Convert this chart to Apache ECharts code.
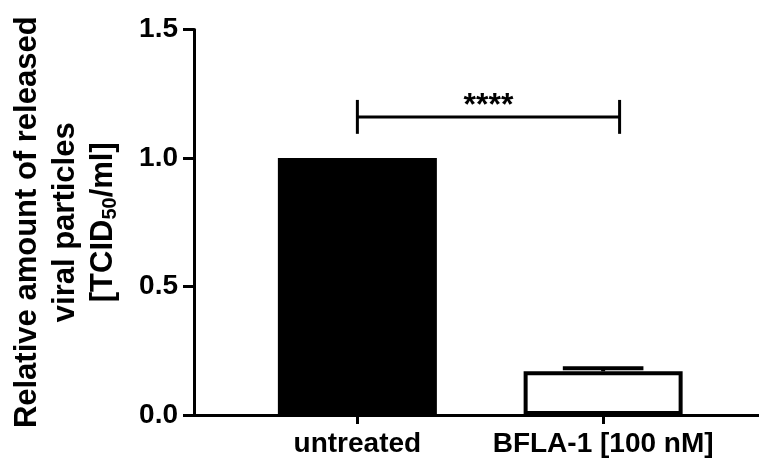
<!DOCTYPE html>
<html>
<head>
<meta charset="utf-8">
<script src="https://cdn.jsdelivr.net/npm/echarts@6/dist/echarts.min.js"></script>
<style>html,body{margin:0;padding:0;background:#fff}#c{width:759px;height:461px}</style>
</head>
<body>
<div id="c"></div>
<script>
// ---- data ----
const categories = ['untreated', 'BFLA-1 [100 nM]'];
const meanValues = [1.0, 0.17];
const errorValues = [0, 0.012];
const barFills = ['#000000', '#ffffff'];
const yTicks = [0, 0.5, 1.0, 1.5];
const sigFrom = 0;        // category index (left end of bracket)
const sigTo = 1.067;      // category units (right end of bracket)
const sigLevel = 1.16;    // y value of the bracket
const sigTickHalf = 0.066;
const sigLabel = '****';

const FONT = 'Liberation Sans, Arial, Helvetica, sans-serif';
const chart = echarts.init(document.getElementById('c'), null, {renderer: 'canvas'});

const option = {
  backgroundColor: '#ffffff',
  animation: false,
  grid: [
    {left: 232, right: 33, top: 29.5, bottom: 46, containLabel: false},
    {left: 191.5, right: 0, top: 29.5, bottom: 46, containLabel: false}
  ],
  xAxis: [
    {
      type: 'category', gridIndex: 0, data: categories,
      axisLine: {show: false, onZero: false},
      axisTick: {show: true, alignWithLabel: true, length: 9, lineStyle: {color: '#000', width: 3}},
      axisLabel: {color: '#000', fontFamily: FONT, fontWeight: 'bold', fontSize: 28, margin: 15, interval: 0}
    },
    {
      type: 'value', gridIndex: 1, min: 0, max: 1,
      axisLine: {show: true, onZero: false, lineStyle: {color: '#000', width: 3}},
      axisTick: {show: false}, axisLabel: {show: false}, splitLine: {show: false}
    },
    {
      type: 'value', gridIndex: 0, min: -0.5, max: 1.5, show: false,
      axisLine: {onZero: false}
    }
  ],
  yAxis: [
    {
      type: 'value', gridIndex: 0, min: 0, max: 1.5, interval: 0.5, offset: 40.5,
      axisLine: {show: true, onZero: false, lineStyle: {color: '#000', width: 3}},
      axisTick: {show: true, length: 11, lineStyle: {color: '#000', width: 3}},
      splitLine: {show: false},
      axisLabel: {
        color: '#000', fontFamily: FONT, fontWeight: 'bold', fontSize: 28, margin: 16,
        formatter: v => yTicks.includes(v) ? v.toFixed(1) : ''
      },
      name: 'Relative amount of released\nviral particles\n[TCID{sub|50}/ml]',
      nameLocation: 'middle', nameGap: 72,
      nameTextStyle: {
        color: '#000', fontFamily: FONT, fontWeight: 'bold', fontSize: 31, lineHeight: 38,
        align: 'center',
        rich: {sub: {fontFamily: FONT, fontWeight: 'bold', fontSize: 20, lineHeight: 38, padding: [14, 0, 0, 0], color: '#000'}}
      }
    },
    {type: 'value', gridIndex: 1, min: 0, max: 1.5, show: false, axisLine: {onZero: false}}
  ],
  series: [
    {
      type: 'bar', xAxisIndex: 0, yAxisIndex: 0, barWidth: 159,
      data: meanValues.map((v, i) => ({value: v, itemStyle: {color: barFills[i], borderColor: '#000', borderWidth: 4}})),
      z: 3
    },
    {
      type: 'custom', xAxisIndex: 0, yAxisIndex: 0, z: 4,
      data: meanValues.map((v, i) => [i, v, errorValues[i]]),
      renderItem: function (params, api) {
        const i = api.value(0), m = api.value(1), e = api.value(2);
        if (!e) return null;
        const band = api.size([1, 0])[0];
        const half = band * 0.164;
        const p0 = api.coord([i, m]);
        const p1 = api.coord([i, m + e]);
        return {
          type: 'group',
          children: [
            {type: 'line', shape: {x1: p0[0], y1: p0[1], x2: p1[0], y2: p1[1]}, style: {stroke: '#000', lineWidth: 4}},
            {type: 'line', shape: {x1: p1[0] - half, y1: p1[1], x2: p1[0] + half, y2: p1[1]}, style: {stroke: '#000', lineWidth: 4}}
          ]
        };
      }
    },
    {
      type: 'custom', xAxisIndex: 2, yAxisIndex: 0, z: 5,
      data: [[sigFrom, sigTo, sigLevel, sigTickHalf]],
      renderItem: function (params, api) {
        const a = api.value(0), b = api.value(1), y = api.value(2), h = api.value(3);
        const pa = api.coord([a, y]);
        const pb = api.coord([b, y]);
        const top = api.coord([a, y + h])[1];
        const bot = api.coord([a, y - h])[1];
        const st = {stroke: '#000', lineWidth: 3};
        return {
          type: 'group',
          children: [
            {type: 'line', shape: {x1: pa[0], y1: pa[1], x2: pb[0], y2: pb[1]}, style: st},
            {type: 'line', shape: {x1: pa[0], y1: top, x2: pa[0], y2: bot}, style: st},
            {type: 'line', shape: {x1: pb[0], y1: top, x2: pb[0], y2: bot}, style: st},
            {type: 'text', style: {text: sigLabel, x: (pa[0] + pb[0]) / 2, y: pa[1] - 11,
              align: 'center', verticalAlign: 'middle', fill: '#000',
              font: 'bold 32px ' + FONT}}
          ]
        };
      }
    }
  ]
};
chart.setOption(option);
</script>
</body>
</html>
